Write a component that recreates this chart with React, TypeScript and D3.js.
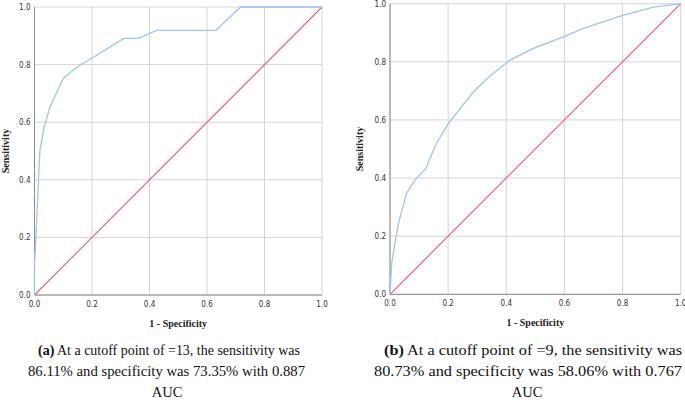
import React from "react";
import * as d3 from "d3";

const ticks = [0, 0.2, 0.4, 0.6, 0.8, 1.0];
const tickLabels = ["0.0", "0.2", "0.4", "0.6", "0.8", "1.0"];

const fprA = [0, 0, 0.005, 0.016, 0.019, 0.034, 0.054, 0.1, 0.135, 0.164, 0.199, 0.311, 0.361, 0.425, 0.631, 0.717, 1.0];
const tprA = [0, 0.11, 0.2, 0.445, 0.503, 0.584, 0.654, 0.752, 0.781, 0.802, 0.822, 0.891, 0.891, 0.919, 0.919, 1.0, 1.0];

const fprB = [0, 0.006, 0.017, 0.029, 0.057, 0.086, 0.124, 0.135, 0.16, 0.201, 0.287, 0.344, 0.413, 0.493, 0.596, 0.665, 0.797, 0.906, 1.0];
const tprB = [0, 0.107, 0.175, 0.244, 0.348, 0.393, 0.434, 0.462, 0.52, 0.588, 0.697, 0.751, 0.806, 0.846, 0.886, 0.915, 0.959, 0.988, 1.0];

const captionA = ["At a cutoff point of =13, the sensitivity was", "86.11% and specificity was 73.35% with 0.887", "AUC"];
const captionB = ["At a cutoff point of =9, the sensitivity was", "80.73% and specificity was 58.06% with 0.767", "AUC"];

type PanelProps = {
  x0: number; x1: number; y0: number; y1: number;
  fpr: number[]; tpr: number[]; ylabX: number;
};

function Panel({ x0, x1, y0, y1, fpr, tpr, ylabX }: PanelProps) {
  const xs = d3.scaleLinear().domain([0, 1]).range([x0, x1]);
  const ys = d3.scaleLinear().domain([0, 1]).range([y0, y1]);
  const line = d3.line<number>().x((_, i) => xs(fpr[i])).y((d) => ys(d));
  const diag = d3.line<number>().x((d) => xs(d)).y((d) => ys(d));
  const tickFont = "DejaVu Sans Condensed, DejaVu Sans, sans-serif";
  return (
    <g>
      {ticks.map((t, i) => (
        <g key={"g" + i}>
          <line x1={xs(t)} x2={xs(t)} y1={y0} y2={y1} stroke="#d4d4d4" strokeWidth={1} />
          <line x1={x0} x2={x1} y1={ys(t)} y2={ys(t)} stroke="#d4d4d4" strokeWidth={1} />
        </g>
      ))}
      <line x1={x0} x2={x0} y1={y0} y2={y1} stroke="#8a8a8a" strokeWidth={1} />
      <line x1={x0} x2={x1} y1={y0} y2={y0} stroke="#8a8a8a" strokeWidth={1} />
      <path d={diag([0, 1]) || ""} fill="none" stroke="#ee5a78" strokeWidth={1.1} />
      <path d={line(tpr) || ""} fill="none" stroke="#9cc4f4" strokeWidth={1.3} />
      {ticks.map((t, i) => (
        <g key={"t" + i} fontFamily={tickFont} fontSize={8} fill="#333">
          <text x={x0 - 4} y={ys(t) + 3} textAnchor="end">{tickLabels[i]}</text>
          <text x={xs(t)} y={y0 + 12} textAnchor="middle">{tickLabels[i]}</text>
        </g>
      ))}
      <text
        x={ylabX}
        y={(y0 + y1) / 2}
        transform={`rotate(-90 ${ylabX} ${(y0 + y1) / 2})`}
        textAnchor="middle"
        fontFamily="Liberation Serif, serif"
        fontWeight="bold"
        fontSize={10}
        fill="#222"
      >
        Sensitivity
      </text>
      <text
        x={(x0 + x1) / 2}
        y={y0 + 32}
        textAnchor="middle"
        fontFamily="Liberation Serif, serif"
        fontWeight="bold"
        fontSize={10}
        fill="#222"
      >
        1 - Specificity
      </text>
    </g>
  );
}

function Caption({ x0s, cx, label, lines, widths, fs }: { x0s: number[]; cx: number; label: string; lines: string[]; widths: number[]; fs: number }) {
  const f = "Liberation Serif, Times New Roman, serif";
  return (
    <g fontFamily={f} fontSize={fs} fill="#111">
      <text x={x0s[0]} y={355} textLength={widths[0]} lengthAdjust="spacingAndGlyphs">
        <tspan fontWeight="bold">{label}</tspan>
        <tspan> {lines[0]}</tspan>
      </text>
      <text x={x0s[1]} y={376} textLength={widths[1]} lengthAdjust="spacingAndGlyphs">{lines[1]}</text>
      <text x={cx} y={397} textAnchor="middle">{lines[2]}</text>
    </g>
  );
}

export default function App() {
  return (
    <svg width={685} height={408} style={{ position: "absolute", left: 0, top: 0, background: "#fff" }}>
      <rect width={685} height={408} fill="#fff" />
      <Panel x0={34.5} x1={322} y0={295} y1={7} fpr={fprA} tpr={tprA} ylabX={9} />
      <Panel x0={390} x1={680.7} y0={294.3} y1={3.7} fpr={fprB} tpr={tprB} ylabX={363} />
      <Caption x0s={[38, 28]} cx={167} label="(a)" lines={captionA} widths={[262, 277]} fs={14.5} />
      <Caption x0s={[384, 374]} cx={527} label="(b)" lines={captionB} widths={[298, 308]} fs={14.5} />
    </svg>
  );
}
